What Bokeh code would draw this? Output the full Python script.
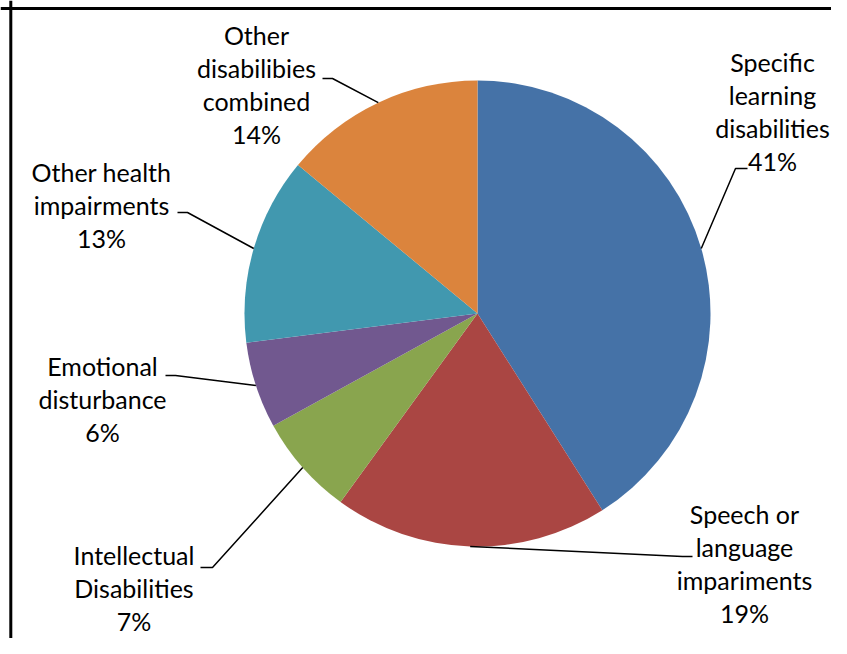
import math
from bokeh.plotting import figure
from bokeh.models import Range1d, Span, ColumnDataSource
from bokeh.core.properties import value
from bokeh.embed import file_html
from bokeh.resources import INLINE

# ---- data ----
categories = ["Specific\nlearning\ndisabilities",
              "Speech or\nlanguage\nimpariments",
              "Intellectual\nDisabilities",
              "Emotional\ndisturbance",
              "Other health\nimpairments",
              "Other\ndisabilibies\ncombined"]
percents = [41, 19, 7, 6, 13, 14]
colors = ["#4572A7", "#AA4643", "#89A54E", "#71588F", "#4198AF", "#DB843D"]

# ---- layout (pixel space, y measured downward from top) ----
W, H = 831, 638
CX, CY, R = 477, 313, 233
label_pos = [(772, 111), (744, 562.5), (133.5, 587), (102, 398), (101, 204), (256, 84)]
elbow_pos = [(735, 168), (682, 556), (212, 567), (175, 375), (187, 212), (332, 78)]
end_pos = [(747, 168), (692, 556), (200, 567), (165, 375), (177, 212), (322, 78)]


def fy(y):
    return H - y


total = float(sum(percents))
starts, ends, mids = [], [], []
cum = 0.0
for v in percents:
    a0 = math.pi / 2 - 2 * math.pi * cum / total
    cum += v
    a1 = math.pi / 2 - 2 * math.pi * cum / total
    starts.append(a0)
    ends.append(a1)
    mids.append((a0 + a1) / 2)

p = figure(width=W, height=H, output_backend="svg", toolbar_location=None,
           x_range=Range1d(0, W), y_range=Range1d(0, H),
           x_axis_location=None, y_axis_location=None, min_border=0,
           background_fill_color="white", border_fill_color="white")
p.outline_line_color = None
p.grid.visible = False

src = ColumnDataSource(dict(start=starts, end=ends, color=colors))
p.wedge(x=CX, y=fy(CY), radius=R, start_angle="start", end_angle="end",
        direction="clock", fill_color="color", line_color=None, source=src)

xs, ys = [], []
for m, e, t in zip(mids, elbow_pos, end_pos):
    sx = CX + R * math.cos(m)
    sy = fy(CY) + R * math.sin(m)
    xs.append([sx, e[0], t[0]])
    ys.append([sy, fy(e[1]), fy(t[1])])
p.multi_line(xs, ys, line_color="black", line_width=1.5)

texts = [f"{c}\n{v}%" for c, v in zip(categories, percents)]
p.text(x=[q[0] for q in label_pos], y=[fy(q[1]) for q in label_pos], text=texts,
       text_font=value("Lato"), text_font_size="25px", text_color="black",
       text_align="center", text_baseline="middle", text_line_height=1.1)

# frame border (left and top edges of the chart area)
p.add_layout(Span(location=10.3, dimension="height", line_color="black", line_width=3))
p.add_layout(Span(location=fy(8), dimension="width", line_color="black", line_width=3))

open("out.html", "w").write(file_html(p, INLINE))
